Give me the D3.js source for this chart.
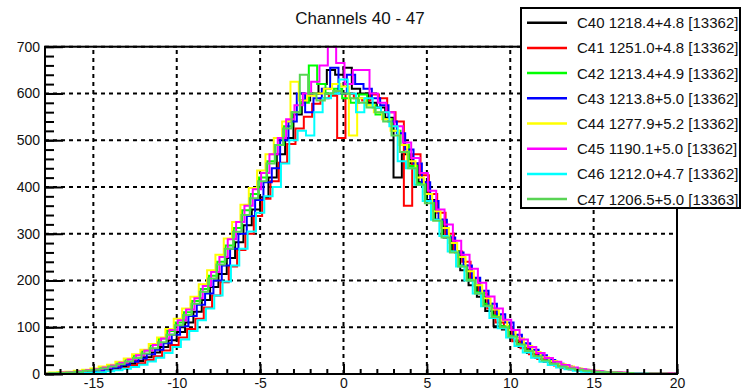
<!DOCTYPE html>
<html>
<head>
<meta charset="utf-8">
<script src="https://cdn.jsdelivr.net/npm/d3@7"></script>
<style>
  html, body { margin: 0; padding: 0; background: #fff; }
  svg { display: block; font-family: "Liberation Sans", Arial, sans-serif; }
</style>
</head>
<body>
<div id="chart"></div>
<script>
// ---- data ----
const TITLE = 'Channels 40 - 47'
const CHANNELS = ['C40', 'C41', 'C42', 'C43', 'C44', 'C45', 'C46', 'C47']
const MEANS = ['1218.4', '1251.0', '1213.4', '1213.8', '1277.9', '1190.1', '1212.0', '1206.5']
const SIGMAS = ['4.8', '4.8', '4.9', '5.0', '5.2', '5.0', '4.7', '5.0']
const ENTRIES = ['13362', '13362', '13362', '13362', '13362', '13362', '13362', '13363']

// histogram binning: 76 bins of 0.5 starting at -18
const BIN_LO = -18
const BIN_W = 0.5
// each channel's bins sit a little off the others
const BIN_SHIFT = [0, 0.12, -0.08, 0.2, -0.18, 0.06, 0.25, -0.12]

const C40 = [0, 1, 2, 3, 4, 5, 7, 10, 12, 17, 22, 28,
  36, 46, 58, 72, 90, 110, 133, 158, 186, 214, 248, 282,
  318, 352, 378, 420, 470, 505, 555, 585, 600, 620, 650, 640,
  655, 610, 600, 580, 570, 548, 420, 470, 450, 410, 372, 330,
  292, 262, 222, 190, 165, 135, 102, 95, 76, 58, 45, 35,
  26, 20, 14, 10, 8, 6, 4, 3, 2, 2, 1, 1, 1, 0, 0, 1]
const C41 = [0, 0, 1, 2, 3, 4, 5, 7, 9, 13, 18, 23,
  30, 38, 50, 62, 78, 96, 118, 142, 168, 196, 230, 265,
  300, 338, 375, 412, 452, 492, 525, 550, 578, 590, 595, 505,
  600, 590, 585, 598, 590, 560, 540, 360, 470, 425, 385, 345,
  300, 262, 240, 205, 172, 140, 110, 98, 70, 55, 42, 32,
  26, 18, 13, 10, 8, 6, 5, 4, 3, 2, 2, 1, 1, 1, 1, 0]
const C42 = [1, 2, 3, 4, 6, 8, 10, 13, 18, 24, 32, 40,
  50, 62, 76, 92, 110, 132, 156, 182, 210, 240, 275, 312,
  350, 385, 420, 455, 490, 530, 560, 580, 660, 620, 600, 610,
  590, 580, 598, 575, 555, 545, 520, 490, 445, 408, 370, 330,
  295, 262, 232, 202, 175, 150, 125, 102, 82, 64, 50, 38,
  28, 22, 16, 12, 9, 7, 5, 4, 3, 2, 2, 1, 1, 1, 0, 1]
const C43 = [0, 1, 2, 3, 4, 6, 8, 11, 14, 20, 26, 33,
  42, 52, 66, 84, 102, 124, 148, 172, 200, 232, 268, 300,
  338, 372, 410, 440, 500, 540, 600, 560, 590, 610, 655, 600,
  640, 620, 610, 590, 575, 540, 515, 480, 450, 410, 370, 330,
  292, 260, 232, 206, 178, 150, 128, 110, 84, 66, 52, 40,
  30, 22, 16, 12, 9, 6, 5, 4, 3, 2, 2, 1, 1, 1, 1, 0]
const C44 = [2, 3, 4, 5, 7, 9, 12, 16, 20, 26, 33, 42,
  52, 64, 78, 96, 118, 140, 165, 192, 222, 255, 290, 325,
  362, 398, 435, 470, 505, 540, 625, 585, 595, 600, 610, 620,
  615, 510, 590, 575, 560, 545, 520, 490, 455, 420, 385, 348,
  312, 280, 250, 220, 190, 162, 138, 115, 94, 76, 60, 47,
  36, 28, 21, 16, 12, 9, 7, 5, 4, 3, 2, 2, 1, 1, 1, 1]
const C45 = [1, 2, 3, 4, 6, 8, 10, 14, 18, 24, 31, 40,
  50, 62, 76, 94, 115, 138, 162, 188, 218, 250, 288, 325,
  360, 395, 430, 470, 505, 545, 575, 600, 625, 660, 700, 665,
  620, 650, 650, 600, 580, 560, 530, 495, 462, 430, 392, 352,
  320, 285, 255, 225, 195, 166, 140, 116, 94, 74, 58, 45,
  34, 26, 19, 14, 10, 8, 6, 4, 3, 3, 2, 2, 1, 1, 1, 1]
const C46 = [0, 0, 1, 1, 2, 3, 4, 6, 8, 11, 15, 20,
  27, 35, 45, 58, 74, 92, 115, 140, 168, 198, 232, 268,
  305, 345, 380, 400, 450, 500, 520, 510, 560, 590, 600, 630,
  600, 560, 590, 570, 560, 530, 455, 440, 405, 370, 330, 295,
  262, 230, 200, 172, 145, 120, 98, 78, 60, 46, 35, 26,
  19, 14, 10, 7, 5, 4, 3, 2, 2, 1, 1, 1, 0, 0, 0, 0]
const C47 = [1, 2, 2, 3, 5, 7, 9, 12, 16, 21, 27, 34,
  44, 55, 68, 84, 104, 126, 150, 176, 204, 234, 268, 304,
  340, 376, 412, 450, 490, 525, 560, 640, 600, 585, 600, 605,
  600, 590, 580, 570, 560, 540, 510, 475, 440, 405, 365, 328,
  292, 260, 230, 200, 172, 146, 122, 100, 80, 63, 49, 38,
  29, 22, 16, 12, 9, 7, 5, 4, 3, 2, 2, 1, 1, 1, 1, 0]
const SERIES = [C40, C41, C42, C43, C44, C45, C46, C47]

const X_TICKS = [-15, -10, -5, 0, 5, 10, 15, 20]
const Y_TICKS = [0, 100, 200, 300, 400, 500, 600, 700]

// ---- layout / style ----
const WIDTH = 743
const HEIGHT = 389
const LEFT = 45
const RIGHT = 677
const TOP = 46.7
const BOTTOM = 374
const COLORS = ['#000000', '#ff0000', '#00ff00', '#0000ff', '#ffff00', '#ff00ff', '#00ffff', '#59d454']
const FONT = '"Liberation Sans", Arial, sans-serif'

const svg = d3.select('#chart').append('svg')
  .attr('width', WIDTH)
  .attr('height', HEIGHT)

const x = d3.scaleLinear().domain([-17.9, 20]).range([LEFT, RIGHT])
const y = d3.scaleLinear().domain([0, 700]).range([BOTTOM, TOP])

svg.append('defs').append('clipPath').attr('id', 'plot')
  .append('rect')
  .attr('x', LEFT).attr('y', TOP)
  .attr('width', RIGHT - LEFT).attr('height', BOTTOM - TOP)

// dotted grid
const grid = svg.append('g')
  .attr('stroke', '#000')
  .attr('stroke-width', 2)
  .attr('stroke-dasharray', '4,4')
grid.selectAll('.vx')
  .data(X_TICKS.filter(d => d < 20))
  .join('line')
  .attr('x1', d => x(d)).attr('x2', d => x(d))
  .attr('y1', BOTTOM).attr('y2', TOP)
grid.selectAll('.hy')
  .data(Y_TICKS.filter(d => d > 0))
  .join('line')
  .attr('y1', d => y(d)).attr('y2', d => y(d))
  .attr('x1', LEFT).attr('x2', RIGHT)

// histograms
const step = d3.line()
  .curve(d3.curveStepAfter)
  .x(d => x(d[0]))
  .y(d => y(d[1]))

const hists = svg.append('g').attr('clip-path', 'url(#plot)')
SERIES.forEach((vals, s) => {
  const pts = vals.map((v, i) => [BIN_LO + BIN_SHIFT[s] + i * BIN_W, v])
  pts.push([BIN_LO + BIN_SHIFT[s] + vals.length * BIN_W, vals[vals.length - 1]])
  hists.append('path')
    .datum(pts)
    .attr('fill', 'none')
    .attr('stroke', COLORS[s])
    .attr('stroke-width', 2)
    .attr('d', step)
})

// frame
svg.append('rect')
  .attr('x', LEFT).attr('y', TOP)
  .attr('width', RIGHT - LEFT).attr('height', BOTTOM - TOP)
  .attr('fill', 'none')
  .attr('stroke', '#000')
  .attr('stroke-width', 2)

// x axis: ticks point up into the frame
const xMinor = svg.append('g').attr('transform', `translate(0, ${BOTTOM})`)
  .call(d3.axisBottom(x).tickValues(d3.range(-17, 21, 1)).tickSize(-5).tickFormat(''))
const xMajor = svg.append('g').attr('transform', `translate(0, ${BOTTOM})`)
  .call(d3.axisBottom(x).tickValues(X_TICKS).tickSize(-10).tickPadding(4)
    .tickFormat(d => String(d)))
xMajor.selectAll('.tick text')
  .attr('font-size', '14px')
  .attr('fill', '#111')
  .attr('font-family', FONT)

// y axis: ticks point right into the frame
const yMinor = svg.append('g').attr('transform', `translate(${LEFT}, 0)`)
  .call(d3.axisLeft(y).tickValues(d3.range(0, 701, 20)).tickSize(-9).tickFormat(''))
const yMajor = svg.append('g').attr('transform', `translate(${LEFT}, 0)`)
  .call(d3.axisLeft(y).tickValues(Y_TICKS).tickSize(-18).tickPadding(5))
yMajor.selectAll('.tick text')
  .attr('font-size', '14px')
  .attr('fill', '#111')
  .attr('font-family', FONT)

;[xMinor, xMajor, yMinor, yMajor].forEach(g => {
  g.select('.domain').remove()
  g.selectAll('.tick line').attr('stroke-width', 2)
})

// title
svg.append('text')
  .attr('x', 360)
  .attr('y', 24)
  .attr('text-anchor', 'middle')
  .attr('font-size', '17px')
  .attr('fill', '#111')
  .text(TITLE)

// legend
const legend = svg.append('g')
legend.append('rect')
  .attr('x', 521).attr('y', 8)
  .attr('width', 219).attr('height', 200)
  .attr('fill', '#fff')
  .attr('stroke', '#000')
  .attr('stroke-width', 2)

const rows = legend.selectAll('.row')
  .data(CHANNELS)
  .join('g')
  .attr('transform', (d, i) => `translate(0, ${22.7 + i * 25.2})`)
rows.append('line')
  .attr('x1', 527).attr('x2', 567)
  .attr('stroke', (d, i) => COLORS[i])
  .attr('stroke-width', 2.5)
rows.append('text')
  .attr('x', 577)
  .attr('dy', '0.36em')
  .attr('font-size', '15px')
  .attr('fill', '#111')
  .text((d, i) => `${d} ${MEANS[i]}+${SIGMAS[i]} [${ENTRIES[i]}]`)
</script>
</body>
</html>
